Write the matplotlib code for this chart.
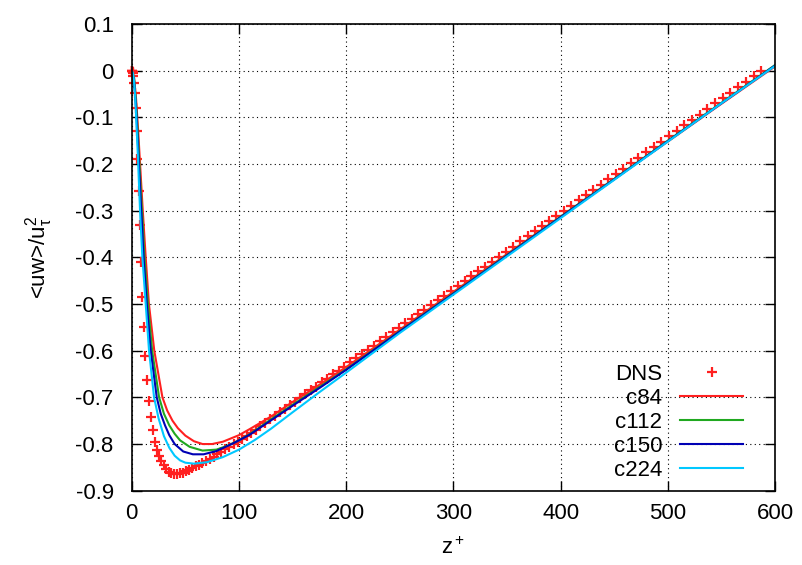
import matplotlib
matplotlib.use("Agg")
import matplotlib.pyplot as plt

plt.rcParams['font.family'] = ['Liberation Sans', 'DejaVu Sans']
plt.rcParams['mathtext.fontset'] = 'custom'
plt.rcParams['mathtext.rm'] = 'Liberation Sans'
plt.rcParams['mathtext.it'] = 'Liberation Sans'
plt.rcParams['axes.unicode_minus'] = False

# DNS profile (z+, <uw>/u_tau^2)
dns_z = [0.0, 0.04, 0.18, 0.40, 0.71, 1.10, 1.59, 2.17, 2.83, 3.57,
         4.42, 5.34, 6.36, 7.45, 8.65, 9.92, 11.29, 12.73, 14.27, 15.89,
         17.60, 19.39, 21.27, 23.24, 25.29, 27.42, 29.64, 31.94, 34.33, 36.79,
         39.34, 41.98, 44.70, 47.49, 50.38, 53.34, 56.38, 59.50, 62.70, 65.97,
         69.34, 72.77, 76.29, 79.88, 83.54, 87.28, 91.10, 95.00, 98.96, 103.00,
         107.11, 111.30, 115.56, 119.89, 124.29, 128.75, 133.28, 137.89, 142.57, 147.31,
         152.11, 156.98, 161.92, 166.92, 171.99, 177.11, 182.30, 187.55, 192.86, 198.22,
         203.66, 209.14, 214.68, 220.28, 225.93, 231.64, 237.40, 243.22, 249.08, 255.00,
         260.96, 266.98, 273.04, 279.15, 285.32, 291.52, 297.77, 304.06, 310.40, 316.77,
         323.18, 329.64, 336.13, 342.67, 349.24, 355.85, 362.49, 369.15, 375.86, 382.60,
         389.37, 396.18, 403.00, 409.86, 416.74, 423.64, 430.58, 437.54, 444.51, 451.52,
         458.54, 465.57, 472.64, 479.72, 486.80, 493.91, 501.03, 508.17, 515.32, 522.47,
         529.64, 536.81, 544.00, 551.18, 558.38, 565.57, 572.78, 579.99, 587.19]
dns_uw = [0.0, 0.0, 0.0, -0.001, -0.002, -0.005, -0.012, -0.026, -0.048, -0.080,
          -0.129, -0.189, -0.257, -0.331, -0.411, -0.484, -0.550, -0.611, -0.662, -0.707,
          -0.743, -0.771, -0.795, -0.813, -0.825, -0.836, -0.845, -0.854, -0.859, -0.863,
          -0.864, -0.864, -0.863, -0.861, -0.857, -0.855, -0.851, -0.848, -0.844, -0.841,
          -0.837, -0.832, -0.827, -0.821, -0.816, -0.811, -0.806, -0.800, -0.795, -0.789,
          -0.783, -0.776, -0.769, -0.762, -0.755, -0.747, -0.740, -0.732, -0.725, -0.717,
          -0.709, -0.701, -0.693, -0.685, -0.677, -0.668, -0.660, -0.651, -0.643, -0.634,
          -0.625, -0.616, -0.607, -0.598, -0.589, -0.580, -0.570, -0.561, -0.551, -0.541,
          -0.532, -0.522, -0.512, -0.502, -0.492, -0.482, -0.472, -0.461, -0.451, -0.441,
          -0.430, -0.420, -0.409, -0.399, -0.388, -0.377, -0.366, -0.355, -0.344, -0.333,
          -0.322, -0.311, -0.300, -0.289, -0.278, -0.267, -0.255, -0.244, -0.233, -0.221,
          -0.210, -0.198, -0.187, -0.175, -0.164, -0.152, -0.140, -0.129, -0.117, -0.106,
          -0.094, -0.082, -0.070, -0.059, -0.047, -0.035, -0.024, -0.012, 0.0]

# LES runs
c84_z = [0, 2, 4, 6, 8, 10, 13, 16, 21, 28.6, 33, 38, 43, 50, 58, 66, 75, 85, 100, 110,
         130, 150, 175, 200, 250, 300, 350, 400, 450, 500, 550, 600]
c84_uw = [0, -0.012, -0.06, -0.13, -0.21, -0.29, -0.40, -0.50, -0.60, -0.70, -0.728, -0.750,
          -0.766, -0.782, -0.794, -0.800, -0.800, -0.795, -0.781, -0.768,
          -0.741, -0.710, -0.673, -0.635, -0.555, -0.474, -0.393, -0.313, -0.232, -0.152, -0.071, 0.009]

c112_z = [0, 2, 4, 6, 8, 10, 11.8, 15, 19, 25.5, 30, 35, 40, 45, 54, 66, 79, 90, 100, 110,
          130, 150, 175, 200, 250, 300, 350, 400, 450, 500, 550, 600]
c112_uw = [0, -0.015, -0.07, -0.15, -0.24, -0.32, -0.40, -0.50, -0.60, -0.70, -0.735, -0.760,
           -0.778, -0.792, -0.806, -0.814, -0.812, -0.803, -0.792, -0.779,
           -0.747, -0.716, -0.678, -0.640, -0.558, -0.477, -0.395, -0.313, -0.232, -0.150, -0.069, 0.012]

c150_z = [0, 2, 4, 6, 8, 9.5, 11, 14, 17.7, 23.3, 27, 31, 35, 40, 48, 57, 67, 79, 95, 110,
          130, 150, 175, 200, 250, 300, 350, 400, 450, 500, 550, 600]
c150_uw = [0, -0.018, -0.08, -0.17, -0.265, -0.33, -0.40, -0.50, -0.60, -0.70, -0.735, -0.760,
           -0.781, -0.800, -0.816, -0.822, -0.822, -0.815, -0.798, -0.780,
           -0.749, -0.718, -0.680, -0.641, -0.559, -0.478, -0.396, -0.314, -0.233, -0.151, -0.070, 0.011]

c224_z = [0, 1, 2, 3, 4, 5, 6, 7, 8, 9, 9.9, 13, 16.1, 20.8, 25, 30, 35, 40, 45, 50, 58, 70,
          85, 100, 115, 130, 150, 175, 200, 250, 300, 350, 400, 450, 500, 550, 600]
c224_uw = [0, -0.005, -0.02, -0.05, -0.095, -0.145, -0.20, -0.26, -0.315, -0.36, -0.40, -0.50,
           -0.60, -0.70, -0.745, -0.783, -0.808, -0.825, -0.835, -0.840, -0.842, -0.839,
           -0.828, -0.812, -0.791, -0.767, -0.732, -0.689, -0.647, -0.562, -0.480, -0.398,
           -0.316, -0.234, -0.152, -0.070, 0.010]

xticks = [0, 100, 200, 300, 400, 500, 600]
yticks = [0.1, 0, -0.1, -0.2, -0.3, -0.4, -0.5, -0.6, -0.7, -0.8, -0.9]
ytick_labels = ['0.1', '0', '-0.1', '-0.2', '-0.3', '-0.4', '-0.5', '-0.6', '-0.7', '-0.8', '-0.9']

fig = plt.figure(figsize=(8.03, 5.65), dpi=100)
ax = fig.add_axes([0.1641, 0.1315, 0.8010, 0.8260])

ax.plot(dns_z, dns_uw, '+', color='#ff2020', markersize=7, markeredgewidth=1.6,
        linestyle='none', label='DNS', clip_on=False)
ax.plot(c84_z, c84_uw, color='#ff2020', lw=1.5, label='c84')
ax.plot(c112_z, c112_uw, color='#20a820', lw=1.5, label='c112')
ax.plot(c150_z, c150_uw, color='#0000b4', lw=1.5, label='c150')
ax.plot(c224_z, c224_uw, color='#00c8ff', lw=1.5, label='c224')

ax.set_xlim(0, 600)
ax.set_ylim(-0.9, 0.1)
ax.set_xticks(xticks)
ax.set_yticks(yticks)
ax.set_yticklabels(ytick_labels)
ax.tick_params(direction='in', length=7, width=1, top=True, right=True,
               labelsize=16)
ax.tick_params(axis='x', pad=9)
ax.tick_params(axis='y', pad=13)
ax.grid(True, color='black', linestyle=(0, (1, 3)), linewidth=0.8)
for s in ax.spines.values():
    s.set_linewidth(1.2)

ax.set_xlabel(r'$\mathregular{z^+}$', fontsize=16)
ax.set_ylabel(r'<uw>/$\mathregular{u_\tau^2}$', fontsize=16)
ax.xaxis.set_label_coords(0.5, -0.10)
ax.yaxis.set_label_coords(-0.12, 0.5)

leg = ax.legend(loc='lower right', bbox_to_anchor=(0.975, -0.012), frameon=False,
                markerfirst=False, fontsize=16, handlelength=2.85,
                handletextpad=0.8, labelspacing=0.13, borderpad=0.2,
                numpoints=1)

fig.savefig('out.png', dpi=100)
